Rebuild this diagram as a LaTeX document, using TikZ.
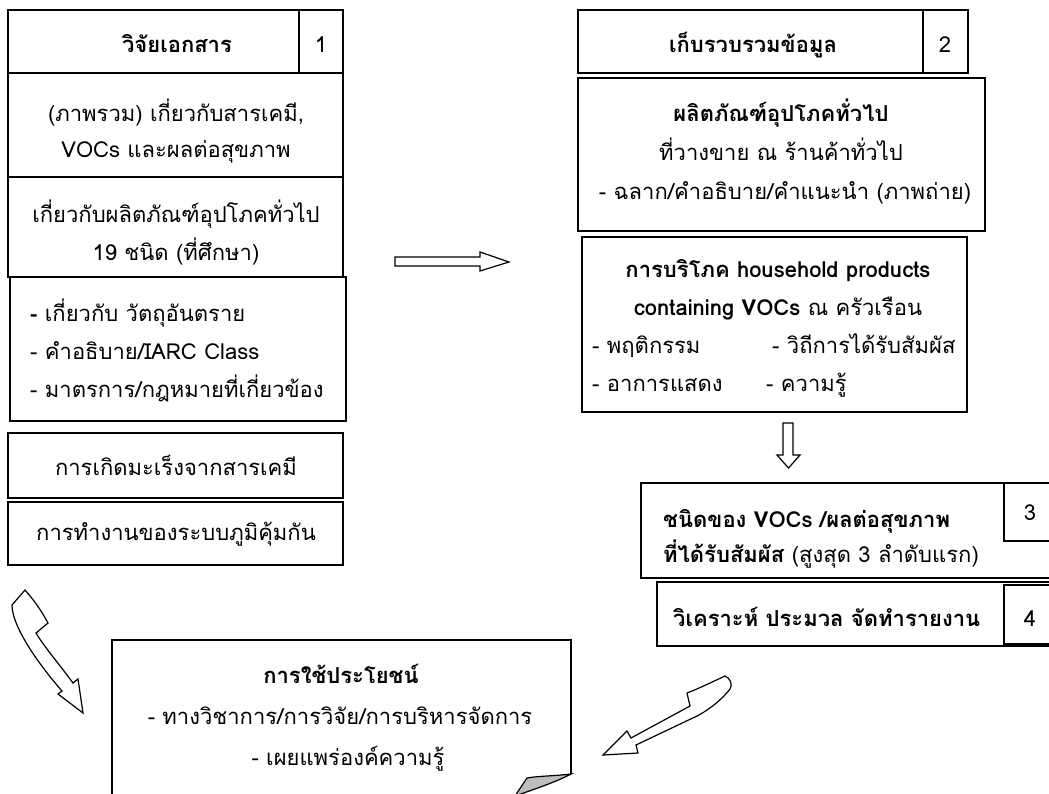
\documentclass[tikz,border=0pt]{standalone}
\usepackage{fontspec}
\setmainfont{Loma}[Script=Thai]
\usetikzlibrary{fit}
\definecolor{foldgray}{HTML}{BDBDBD}
\begin{document}
\begin{tikzpicture}[x=1pt,y=-1pt,
  boxst/.style={draw, line width=1.6pt, inner sep=0pt},
  txt/.style={anchor=base, inner sep=0pt, font=\fontsize{22}{26}\selectfont},
  ltxt/.style={anchor=base west, inner sep=0pt, font=\fontsize{22}{26}\selectfont},
  blockarrow/.style={draw, line width=1.2pt, fill=white, line join=miter},
]
\useasboundingbox (0,0) rectangle (1049,793);
\clip (0,0) rectangle (1049,793);

% ---------- column 1 ----------
\node[boxst, fit={(8,10) (343,73)}] (h1) {};
\node[boxst, fit={(299,10) (343,73)}] (h1n) {};
\node[boxst, fit={(8,73) (343,177)}] (b11) {};
\node[boxst, fit={(8,177) (343,277)}] (b12) {};
\node[boxst, fit={(10,277) (346,421)}] (b13) {};
\node[boxst, fit={(8,433) (343,498)}] (b14) {};
\node[boxst, fit={(8,502) (343,565)}] (b15) {};

\node[txt] (t1) at (177,52) {\textbf{วิจัยเอกสาร}};
\node[txt] (n1) at (321,52) {1};
\node[txt] (t11a) at (176,121) {(ภาพรวม) เกี่ยวกับสารเคมี,};
\node[txt] (t11b) at (176,157) {VOCs และผลต่อสุขภาพ};
\node[txt] (t12a) at (176,222) {เกี่ยวกับผลิตภัณฑ์อุปโภคทั่วไป};
\node[txt] (t12b) at (176,260) {19 ชนิด (ที่ศึกษา)};
\node[ltxt] (t13a) at (30,321) {\textbf{-} เกี่ยวกับ วัตถุอันตราย};
\node[ltxt] (t13b) at (30,359) {- คำอธิบาย/IARC Class};
\node[ltxt] (t13c) at (30,397) {- มาตรการ/กฎหมายที่เกี่ยวข้อง};
\node[txt] (t14) at (176,475) {การเกิดมะเร็งจากสารเคมี};
\node[txt] (t15) at (176,540) {การทำงานของระบบภูมิคุ้มกัน};

% ---------- column 2 ----------
\node[boxst, fit={(578,10) (968,73)}] (h2) {};
\node[boxst, fit={(923,10) (968,73)}] (h2n) {};
\node[boxst, fit={(578,78) (985,231)}] (b21) {};
\node[boxst, fit={(582,237) (967,412)}] (b22) {};

\node[txt] (t2) at (753,52) {\textbf{เก็บรวบรวมข้อมูล}};
\node[txt] (n2) at (945,52) {2};
\node[txt] (t21a) at (781,121) {\textbf{ผลิตภัณฑ์อุปโภคทั่วไป}};
\node[txt] (t21b) at (781,160) {ที่วางขาย ณ ร้านค้าทั่วไป};
\node[txt] (t21c) at (785,199) {- ฉลาก/คำอธิบาย/คำแนะนำ (ภาพถ่าย)};
\node[txt] (t22a) at (778,277) {\textbf{การบริโภค household products}};
\node[txt] (t22b) at (778,315) {\textbf{containing VOCs} ณ ครัวเรือน};
\node[ltxt] (t22c) at (592,353) {- พฤติกรรม};
\node[ltxt] (t22d) at (772,353) {- วิถีการได้รับสัมผัส};
\node[ltxt] (t22e) at (592,391) {- อาการแสดง};
\node[ltxt] (t22f) at (766,391) {- ความรู้};

% ---------- boxes 3 and 4 ----------
\node[boxst, fit={(641,483) (1062,578)}] (b3) {};
\node[boxst, fit={(1004,483) (1062,541)}] (b3n) {};
\node[boxst, fit={(657,582) (1062,646)}] (b4) {};
\node[boxst, fit={(1004,585) (1062,644)}] (b4n) {};

\node[ltxt] (t3a) at (663,527) {\textbf{ชนิดของ VOCs /ผลต่อสุขภาพ}};
\node[ltxt] (t3b) at (663,562) {\textbf{ที่ได้รับสัมผัส} (สูงสุด 3 ลำดับแรก)};
\node[txt] (n3) at (1030,520) {3};
\node[ltxt] (t4) at (673,626) {\textbf{วิเคราะห์ ประมวล จัดทำรายงาน}};
\node[txt] (n4) at (1030,626) {4};

% ---------- result box with curled corner ----------
\draw[line width=1.6pt, line join=miter] (112,800) -- (112,640) -- (571,640) -- (571,774);
\filldraw[line width=1.2pt, fill=foldgray] (571,774) .. controls (555,776) and (537,776) .. (527,778)
   -- (515,796) .. controls (535,789) and (556,782) .. (571,774) -- cycle;
\node[txt] (t5a) at (341,683) {\textbf{การใช้ประโยชน์}};
\node[txt] (t5b) at (340,724) {- ทางวิชาการ/การวิจัย/การบริหารจัดการ};
\node[txt] (t5c) at (348,765) {- เผยแพร่องค์ความรู้};

% ---------- block arrows ----------
\path[blockarrow] (395,257) -- (480,257) -- (480,252) -- (509,262) -- (480,271) -- (480,266) -- (395,266) -- cycle;
\path[blockarrow] (783,423) -- (793,423) -- (793,455) -- (800,455) -- (788.5,468) -- (777,455) -- (783,455) -- cycle;

\path[blockarrow] (25,590) -- (12,605)
   .. controls (12,625) and (35,660) .. (62,691)
   -- (58,694) -- (83,713) -- (78,679) -- (73,683)
   .. controls (60,665) and (45,648) .. (36,633)
   -- (48,623) .. controls (40,608) and (32,598) .. cycle;

\path[blockarrow] (725,676) .. controls (730,678) and (733,684) .. (730,689)
   .. controls (720,702) and (705,712) .. (697,716)
   -- (636,745) -- (638,753) -- (603,755) -- (627,731) -- (631,738)
   -- (690,706) -- (687,693) .. controls (700,688) and (712,682) .. cycle;
\end{tikzpicture}
\end{document}
